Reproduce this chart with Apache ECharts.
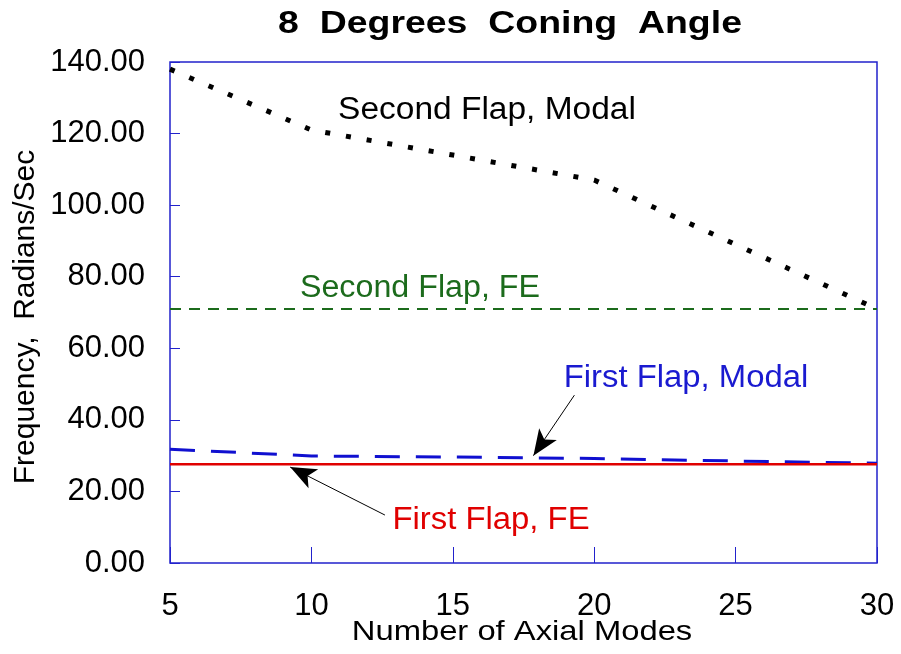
<!DOCTYPE html>
<html><head><meta charset="utf-8">
<script src="https://cdn.jsdelivr.net/npm/echarts@6/dist/echarts.min.js"></script>
<style>html,body{margin:0;padding:0;background:#fff}#c{width:901px;height:654px}</style>
</head><body><div id="c"></div>
<script>
const modes = [5, 10, 15, 20, 25, 30];
const secondFlapModal = [138, 121, 114, 107, 89, 71];
const secondFlapFE = [71, 71, 71, 71, 71, 71];
const firstFlapModal = [31.8, 29.9, 29.6, 29.2, 28.5, 27.9];
const firstFlapFE = [27.6, 27.6, 27.6, 27.6, 27.6, 27.6];
const arrowModal = [[19.3, 46.9], [17.85, 30.0]];
const arrowFE = [[12.6, 13.4], [9.25, 26.8]];

const pair = ys => modes.map((x, i) => [x, ys[i]]);
const FONT = 'Liberation Sans, Arial, sans-serif';
const BLUE = '#2222cc';
const txt = (s, x, y, size, color, sx, extra) => Object.assign({
  type: 'text', x: x, y: y, scaleX: sx,
  style: {text: s, font: size + 'px ' + FONT, fill: color, textAlign: 'center', textVerticalAlign: 'middle'}
}, extra || {});
const chart = echarts.init(document.getElementById('c'));
chart.setOption({
  animation: false,
  backgroundColor: '#fff',
  grid: {left: 170, right: 24, top: 62, bottom: 91, show: true, borderColor: BLUE, borderWidth: 1.5, backgroundColor: 'transparent'},
  xAxis: {type: 'value', min: 5, max: 30, interval: 5,
    axisLine: {show: false}, splitLine: {show: false},
    axisTick: {show: true, inside: true, length: 16, lineStyle: {color: BLUE, width: 1}},
    axisLabel: {margin: 28, fontFamily: FONT, fontSize: 31, color: '#000'}},
  yAxis: {type: 'value', min: 0, max: 140, interval: 20,
    axisLine: {show: false}, splitLine: {show: false},
    axisTick: {show: true, inside: true, length: 10, lineStyle: {color: BLUE, width: 1}},
    axisLabel: {margin: 25, fontFamily: FONT, fontSize: 31, color: '#000', formatter: v => v.toFixed(2)}},
  graphic: [
    {type: 'text', x: 510, y: 24, scaleX: 1.17,
      style: {text: '8  Degrees  Coning  Angle', font: 'bold 32px ' + FONT, fill: '#000', textAlign: 'center', textVerticalAlign: 'middle'}},
    txt('Number of Axial Modes', 522, 632, 28, '#000', 1.17),
    {type: 'text', x: 26, y: 317, rotation: Math.PI / 2,
      style: {text: 'Frequency,  Radians/Sec', font: '30px ' + FONT, fill: '#000', textAlign: 'center', textVerticalAlign: 'middle'}},
    txt('Second Flap, Modal', 487, 110, 31, '#000', 1.08),
    txt('Second Flap, FE', 420, 288, 31, '#1c6b1c', 1.04),
    txt('First Flap, Modal', 686, 378, 31, '#1a1ad0', 1.06),
    txt('First Flap, FE', 491, 520, 31, '#e00000', 1.06)
  ],
  series: [
    {type: 'line', data: pair(secondFlapModal), showSymbol: false, lineStyle: {color: '#000', width: 5, type: [5, 16]}, z: 5},
    {type: 'line', data: pair(secondFlapFE), showSymbol: false, lineStyle: {color: '#1c6b1c', width: 2, type: [11, 8]}},
    {type: 'line', data: pair(firstFlapModal), showSymbol: false, lineStyle: {color: '#1010d0', width: 3, type: [25, 16]},
      markLine: {silent: true, animation: false, symbol: ['none', 'arrow'], symbolSize: [16, 26], label: {show: false},
        lineStyle: {color: '#000', width: 1, type: 'solid'},
        data: [[{coord: arrowModal[0]}, {coord: arrowModal[1]}], [{coord: arrowFE[0]}, {coord: arrowFE[1]}]]}},
    {type: 'line', data: pair(firstFlapFE), showSymbol: false, lineStyle: {color: '#e00000', width: 2.5}}
  ]
});
</script></body></html>
